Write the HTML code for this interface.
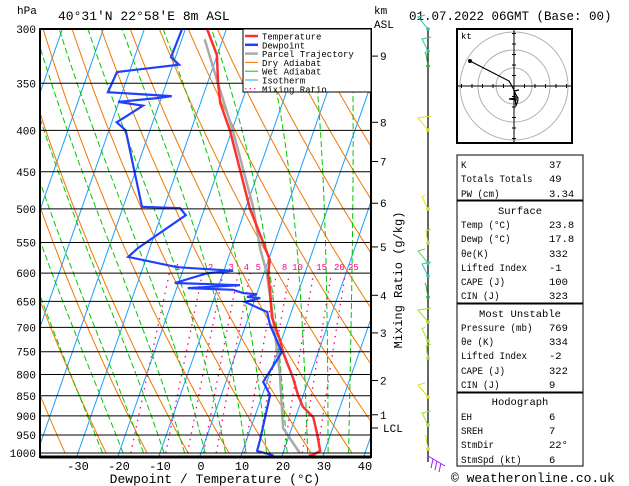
<!DOCTYPE html>
<html><head><meta charset="utf-8">
<style>
body{margin:0;background:#fff;}
svg{display:block;font-family:"Liberation Mono","DejaVu Sans Mono",monospace;}
</style></head>
<body>
<svg id="c" width="629" height="486" viewBox="0 0 629 486" xmlns="http://www.w3.org/2000/svg">
<defs><clipPath id="pc"><rect x="40" y="29" width="331" height="428"/></clipPath></defs>
<rect x="0" y="0" width="629" height="486" fill="#fff"/>
<g id="bg" clip-path="url(#pc)"></g>
<g id="prof" clip-path="url(#pc)"></g>
<g id="ax"></g>
<text x="17" y="14" font-size="11">hPa</text>
<text x="58" y="20" font-size="13">40°31'N 22°58'E 8m ASL</text>
<text x="374" y="14" font-size="11">km</text>
<text x="374" y="28" font-size="11">ASL</text>
<text x="409" y="20" font-size="12.5">01.07.2022 06GMT (Base: 00)</text>
<text x="215" y="483" font-size="13" text-anchor="middle">Dewpoint / Temperature (°C)</text>
<text transform="translate(402,280) rotate(-90)" font-size="12" text-anchor="middle">Mixing Ratio (g/kg)</text>
<g id="legend">
<rect x="243" y="29" width="128" height="63" fill="#fff" stroke="#000" stroke-width="1"/>
</g>
<g id="wind"></g>
<g id="hodo"></g>
<g id="stats"></g>
<text x="451" y="482" font-size="13">© weatheronline.co.uk</text>
</svg>
<script>
// ---- data ----
const pressureTicks = [300,350,400,450,500,550,600,650,700,750,800,850,900,950,1000];
const tempTicks = [-30,-20,-10,0,10,20,30,40];
const kmTicks = [1,2,3,4,5,6,7,8,9];
const kmTickPressure = [897,814,711,639,557,492,437,391,324];
const mixRatios = [1,2,3,4,5,8,10,15,20,25];
const tempP = [300,323,350,370,400,448,499,557,578,600,629,680,725,751,774,806,848,877,903,945,994,1005,1008];
const tempT = [-34.7,-30.1,-27.4,-25.2,-20.5,-14.6,-9.0,-2.0,0.3,1.0,2.9,5.7,9.6,11.4,13.3,15.9,18.7,20.9,24.3,26.6,28.9,27.5,26.5];
const dewP = [300,325,332,339,359,363,365,369,373,391,400,497,499,509,559,573,590,596,600,617,621,626,629,635,637,642,644,651,670,695,751,817,848,964,994,1007];
const dewT = [-40.8,-41.1,-38.5,-53.0,-53.5,-37.6,-41.0,-50.2,-43.8,-48.8,-45.9,-35.4,-26.0,-24.0,-32.9,-34.5,-21.7,-7.7,-13.7,-20.9,-4.8,-17.3,-6.1,-3.4,0.1,-2.1,1.2,-2.2,4.1,5.9,11.1,9.1,11.9,13.3,13.5,17.9];
const parcelP = [1000,932,797,686,600,559,497,400,349,309];
const parcelT = [24.1,17.9,12.4,6.3,0.7,-3.1,-8.3,-19.8,-27.6,-34.4];
const statLabels = ["K","Totals Totals","PW (cm)","Temp (°C)","Dewp (°C)","θe(K)","Lifted Index","CAPE (J)","CIN (J)","Pressure (mb)","θe (K)","Lifted Index","CAPE (J)","CIN (J)","EH","SREH","StmDir","StmSpd (kt)"];
const statValues = ["37","49","3.34","23.8","17.8","332","-1","100","323","769","334","-2","322","9","6","7","22°","6"];

// ---- axes ----
const NS='http://www.w3.org/2000/svg';
function yP(p){return 29+352.2*Math.log(p/300);}
function xT(t,p){return 201+4.1*t+0.35*(453-yP(p));}
function mk(parent,tag,attrs,name){
  const el=document.createElementNS(NS,tag);
  for(const k in attrs) el.setAttribute(k,attrs[k]);
  
  
  document.getElementById(parent).appendChild(el);
  return el;
}
function pathFrom(ps,ts){return ps.map((p,i)=>(i?'L':'M')+xT(ts[i],p).toFixed(1)+' '+yP(p).toFixed(1)).join(' ');}
const pgrid=[];for(let p=1000;p>=290;p-=5)pgrid.push(p);

for(let t=-120;t<=40;t+=10){
  mk('bg','line',{x1:xT(t,1050),y1:yP(1050),x2:xT(t,290),y2:yP(290),stroke:'#1a9fff','stroke-width':1},'isotherm');
}
for(let th=230;th<=480;th+=10){
  const ts=pgrid.map(p=>th*Math.pow(p/1000,0.286)-273.15);
  mk('bg','path',{d:pathFrom(pgrid,ts),fill:'none',stroke:'#f07800','stroke-width':1},'dry-adiabat');
}
function esat(t){return 6.112*Math.exp(17.67*t/(t+243.5));}
for(let tw=-24;tw<=36;tw+=5){
  let T=tw+273.15;const ts=[];
  for(let i=0;i<pgrid.length;i++){
    const p=pgrid[i];ts.push(T-273.15);
    const es=esat(T-273.15),rs=0.622*es/(p-es);
    const dTdp=(287*T+2.5e6*rs)/(p*(1004+2.5e6*2.5e6*rs*0.622/(287*T*T)));
    T+=dTdp*(-5);
  }
  mk('bg','path',{d:pathFrom(pgrid,ts),fill:'none',stroke:'#00c800','stroke-width':1,'stroke-dasharray':'6,3'},'wet-adiabat');
}
const mp=[];for(let p=1000;p>=600;p-=10)mp.push(p);
mixRatios.forEach(w=>{
  const ts=mp.map(p=>{const e=w*p/(622+w);const l=Math.log(e/6.112);return 243.5*l/(17.67-l);});
  mk('bg','path',{d:pathFrom(mp,ts),fill:'none',stroke:'#ff0080','stroke-width':1.3,'stroke-dasharray':'1.5,5'},'mixing-ratio-line');
  const lab=mk('bg','text',{x:xT(ts[ts.length-1],600)+8,y:270,'font-size':9,fill:'#ff0080','text-anchor':'middle'},'mixing-ratio-label');
  lab.textContent=w;
});
pressureTicks.forEach(p=>{
  mk('ax','line',{x1:40,y1:yP(p),x2:371,y2:yP(p),stroke:'#000','stroke-width':1},'pressure-gridline');
  const t=mk('ax','text',{x:36,y:yP(p)+4,'font-size':11,'text-anchor':'end'},'pressure-tick-label');
  t.textContent=p;
});
mk('prof','path',{d:pathFrom(parcelP,parcelT),fill:'none',stroke:'#aaaaaa','stroke-width':2.5},'parcel-trajectory');
mk('prof','path',{d:pathFrom(tempP,tempT),fill:'none',stroke:'#ff3030','stroke-width':2.5},'temperature-line');
mk('prof','path',{d:pathFrom(dewP,dewT),fill:'none',stroke:'#2040ff','stroke-width':2.2},'dewpoint-line');
mk('ax','rect',{x:40,y:29,width:331,height:428,fill:'none',stroke:'#000','stroke-width':2},'plot-frame');
mk('ax','line',{x1:40,y1:457,x2:371,y2:457,stroke:'#000','stroke-width':3},'x-axis-line');
tempTicks.forEach(t=>{
  const x=xT(t,1000);
  const tx=mk('ax','text',{x:x,y:470,'font-size':12,'text-anchor':'middle'},'temperature-tick-label');
  tx.textContent=t;
});
kmTicks.forEach((k,i)=>{
  const y=yP(kmTickPressure[i]);
  mk('ax','line',{x1:371,y1:y,x2:378,y2:y,stroke:'#000'},'km-tick');
  const tx=mk('ax','text',{x:380,y:y+4,'font-size':11},'km-tick-label');
  tx.textContent=k;
});
mk('ax','line',{x1:371,y1:428,x2:378,y2:428,stroke:'#000'},'lcl-tick');
const lcl=mk('ax','text',{x:383,y:432,'font-size':11},'lcl-label');lcl.textContent='LCL';

const legNames=['Temperature','Dewpoint','Parcel Trajectory','Dry Adiabat','Wet Adiabat','Isotherm','Mixing Ratio'];
const legCols=['#ff3030','#2040ff','#aaaaaa','#f07800','#00c800','#1a9fff','#ff0080'];
const legW=[2.5,2.5,2.5,1,1,1,1];
legNames.forEach((n,i)=>{
  const y=36+8.8*i;
  const l=mk('legend','line',{x1:245,y1:y,x2:258,y2:y,stroke:legCols[i],'stroke-width':legW[i]},'legend-swatch');
  if(i===6)l.setAttribute('stroke-dasharray','1.5,3');
  const t=mk('legend','text',{x:262,y:y+3.5,'font-size':9,'textLength':n.length*5.4,'lengthAdjust':'spacingAndGlyphs'},'legend-entry');t.textContent=n;
});

mk('wind','line',{x1:428,y1:29,x2:428,y2:462,stroke:'#000','stroke-width':1.2},'wind-axis');
const barbY=[29,51,66,130,209,243,263,276,297,322,341,358,397,425,449];
const barbC=['#30c0a0','#30c0a0','#20b030','#e0e020','#e0e020','#c0e030','#60d060','#30c0c0','#20b030','#a0e030','#a0e030','#a0e030','#e0e020','#a0e030','#e0e020'];
barbY.forEach((y,i)=>{
  mk('wind','path',{d:`M428 ${y} L${418+(i%3)*4} ${y-12} L${425+(i%2)*6} ${y-14}`,fill:'none',stroke:barbC[i],'stroke-width':1},'wind-barb');
  mk('wind','circle',{cx:428,cy:y,r:1.8,fill:barbC[i]},'wind-barb-dot');
});
mk('wind','path',{d:'M428 456 L445 466 M433 459 L431 468 M437 461 L435 470 M441 463 L439 472',fill:'none',stroke:'#9020ff','stroke-width':1},'surface-wind-barb');

mk('hodo','rect',{x:457,y:29,width:115,height:114,fill:'#fff',stroke:'#000','stroke-width':2},'hodograph-frame');
[18,36,54].forEach(r=>mk('hodo','circle',{cx:514,cy:86,r:r,fill:'none',stroke:'#b0b0b0'},'hodograph-ring'));
mk('hodo','line',{x1:458,y1:86,x2:571,y2:86,stroke:'#000'},'hodograph-u-axis');
mk('hodo','line',{x1:514,y1:30,x2:514,y2:142,stroke:'#000'},'hodograph-v-axis');
for(let i=-5;i<=5;i++){if(!i)continue;
  mk('hodo','line',{x1:514+i*10.5,y1:84,x2:514+i*10.5,y2:88,stroke:'#000'},'hodograph-tick');
  mk('hodo','line',{x1:512,y1:86+i*10.5,x2:516,y2:86+i*10.5,stroke:'#000'},'hodograph-tick');}
mk('hodo','path',{d:'M470 61 L509 81 L513 88 L516 95 L518 98 L509 99 L518 100 L516 106 L514 91 L519 90',fill:'none',stroke:'#000','stroke-width':1.2},'hodograph-trace');
mk('hodo','circle',{cx:470,cy:61,r:2,fill:'#000'},'hodograph-point');
const kt=mk('hodo','text',{x:461,y:39,'font-size':9},'hodograph-unit');kt.textContent='kt';

const boxes=[[155,200],[201,303],[304,392],[393,466]];
boxes.forEach(b=>mk('stats','rect',{x:457,y:b[0],width:126,height:b[1]-b[0],fill:'#fff',stroke:'#000','stroke-width':1},'stats-box'));
const heads=[['Surface',210],['Most Unstable',313],['Hodograph',401]];
heads.forEach(h=>{const t=mk('stats','text',{x:520,y:h[1]+4,'font-size':10.5,'text-anchor':'middle'},'stats-section-title');t.textContent=h[0];});
const rowY=[164,178,193, 224,238,253,267,281,295, 327,341,355,370,384, 416,430,444,459];
statLabels.forEach((s,i)=>{
  const t=mk('stats','text',{x:461,y:rowY[i]+4,'font-size':10,'textLength':s.length*5.5,'lengthAdjust':'spacingAndGlyphs'},'stats-label');t.textContent=s;
  const v=mk('stats','text',{x:549,y:rowY[i]+4,'font-size':10.5},'stats-value');v.textContent=statValues[i];
});
</script>
</body></html>
